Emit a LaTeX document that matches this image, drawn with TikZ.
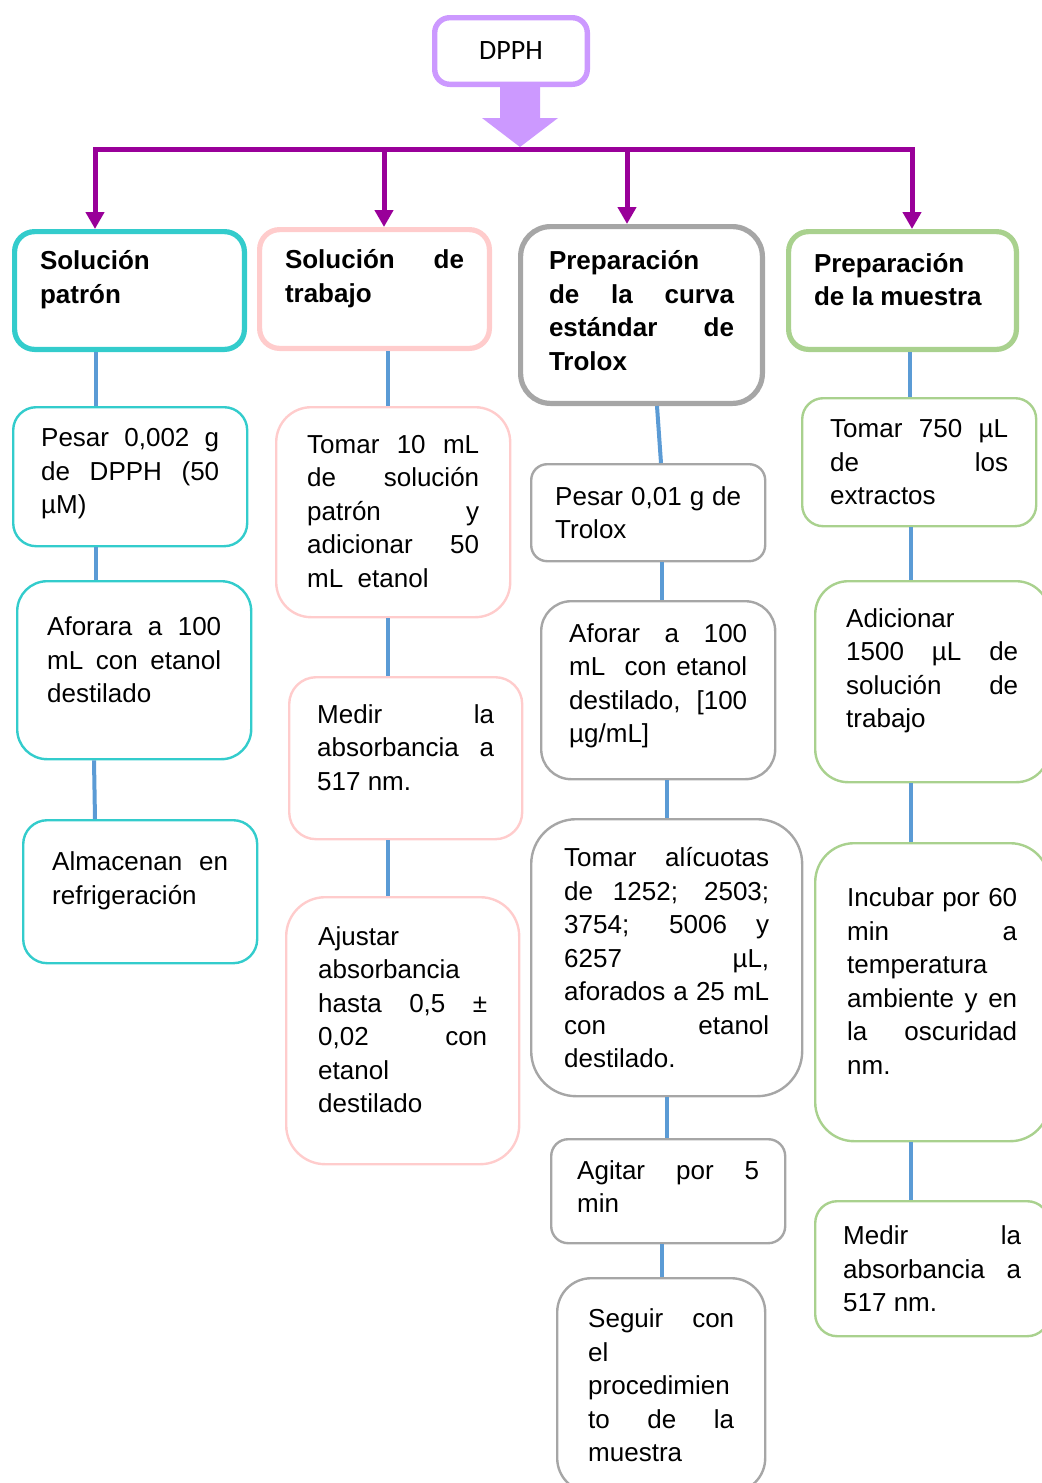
\documentclass[tikz,border=0pt]{standalone}
\usepackage{fontspec}
\setmainfont{Liberation Sans}
\newfontfamily\calibri{Carlito}
\usepackage{tikz}
\usetikzlibrary{arrows.meta,calc}
\usepackage{xcolor}
\definecolor{lilac}{RGB}{204,153,255}
\definecolor{plum}{RGB}{153,0,153}
\definecolor{tealbox}{RGB}{51,204,204}
\definecolor{pinkbox}{RGB}{255,204,204}
\definecolor{graybox}{RGB}{166,166,166}
\definecolor{greenbox}{RGB}{169,209,142}
\definecolor{linkblue}{RGB}{91,155,213}
\hyphenpenalty=10000
\exhyphenpenalty=10000
\newcommand\liftgap[1]{\endgraf\vskip#1\hrule height 0pt}

\begin{document}
\begin{tikzpicture}[x=0.5pt,y=-0.5pt,
    box/.style={draw, rounded corners=#1, anchor=north west, align=justify,
      inner xsep=14pt, inner ysep=4pt, font=\fontsize{13}{16.75}\selectfont},
    headbox/.style={box=#1, line width=2.6pt, inner xsep=12.7pt, font=\bfseries\fontsize{13}{16.75}\selectfont},
    stepbox/.style={box=#1, line width=1.2pt},
    lift/.style={execute at end node={\liftgap{#1}}},
    link/.style={linkblue, line width=2pt},
    drop/.style={plum, line width=2.5pt, -{Triangle[length=8.5pt,width=9pt]}}]
    \useasboundingbox (0,0) rectangle (1042,1483);
    \clip (0,0) rectangle (1042,1483);

    % top
    \node[draw=lilac, line width=2.7pt, rounded corners=7.5pt, minimum width=76.3pt, minimum height=33.3pt,
      font=\calibri\fontsize{14}{16}\selectfont] (dpph) at (511,51) {DPPH};
    \fill[lilac] (500,87) -- (540,87) -- (540,118) -- (558,118) -- (520,147) -- (482,118) -- (500,118) -- cycle;
    \coordinate (j1) at (95,149);
    \coordinate (j2) at (384,149);
    \coordinate (j3) at (627,149);
    \coordinate (j4) at (912,149);

    % headers
    \node[headbox=10pt, draw=tealbox, text width=89.5pt, minimum height=58.9pt, lift=11pt] (patron) at (12,229) {Solución\linebreak patrón};
    \node[headbox=10pt, draw=pinkbox, text width=89.5pt, minimum height=59.4pt, lift=10.5pt] (trabajo) at (257,227) {Solución de\linebreak trabajo};
    \node[headbox=15pt, draw=graybox, inner xsep=14.2pt, text width=92.5pt, minimum height=88.4pt, lift=4.5pt] (curva) at (518,224) {Preparación\linebreak de la curva\linebreak estándar de\linebreak Trolox};
    \node[headbox=10pt, draw=greenbox, text width=88.5pt, minimum height=58.9pt, lift=11pt] (muestra) at (786,229) {Preparación\linebreak de la muestra};

    \draw[drop, {Triangle[length=8.5pt,width=9pt]}-{Triangle[length=8.5pt,width=9pt]}] (patron.north -| j1) -- (j1) -- (j4) -- (muestra.north -| j4);
    \draw[drop] (j2) -- (trabajo.north -| j2);
    \draw[drop] (j3) -- (curva.north -| j3);

    % solucion patron
    \node[stepbox=11.5pt, draw=tealbox, text width=89pt, minimum height=69.5pt, lift=3pt] (pesar) at (12,406) {Pesar 0,002 g\linebreak de DPPH (50\linebreak µM)};
    \node[stepbox=15pt, draw=tealbox, inner xsep=15pt, text width=87pt, minimum height=89pt, lift=10pt] (aforara) at (16,580) {Aforara a 100\linebreak mL con etanol\linebreak destilado};
    \node[stepbox=12pt, draw=tealbox, inner xsep=14.5pt, text width=88pt, minimum height=71.5pt, lift=11pt] (almacenan) at (22,819) {Almacenan en\linebreak refrigeración};

    % solucion de trabajo
    \node[stepbox=17.5pt, draw=pinkbox, inner xsep=15.5pt, text width=86pt, minimum height=105pt, lift=1pt] (tomar) at (275,406) {Tomar 10 mL\linebreak de solución\linebreak patrón y\linebreak adicionar 50\linebreak mL\ \ etanol};
    \node[stepbox=13.5pt, draw=pinkbox, text width=88.5pt, minimum height=81pt, lift=11pt] (medir) at (288,676) {Medir la\linebreak absorbancia a\linebreak 517 nm.};
    \node[stepbox=19.5pt, draw=pinkbox, inner xsep=16pt, text width=84.5pt, minimum height=133.5pt, lift=11pt] (ajustar) at (285,896) {Ajustar\linebreak absorbancia\linebreak hasta 0,5 ±\linebreak 0,02 con\linebreak etanol\linebreak destilado};

    % curva de Trolox
    \node[stepbox=8pt, draw=graybox, inner xsep=12pt, text width=93pt, minimum height=48.5pt] (pesarT) at (530,463) {Pesar 0,01 g de\linebreak Trolox};
    \node[stepbox=15pt, draw=graybox, text width=89pt, minimum height=89pt, lift=4.5pt] (aforar) at (540,600) {Aforar a 100\linebreak mL\ \ con etanol\linebreak destilado, [100\linebreak µg/mL]};
    \node[stepbox=22.5pt, draw=graybox, inner xsep=16.5pt, text width=102.5pt, minimum height=138.5pt] (alicuotas) at (530,818) {Tomar alícuotas\linebreak de 1252; 2503;\linebreak 3754; 5006 y\linebreak 6257 µL,\linebreak aforados a 25 mL\linebreak con etanol\linebreak destilado.};
    \node[stepbox=8.5pt, draw=graybox, inner xsep=13pt, text width=91pt, minimum height=52pt, lift=4.5pt] (agitar) at (550,1138) {Agitar por 5\linebreak min};
    \node[stepbox=17pt, draw=graybox, inner xsep=15.5pt, text width=73pt, minimum height=107pt] (seguir) at (556,1277) {Seguir con\linebreak el\linebreak procedimien\linebreak to de la\linebreak muestra};

    % muestra
    \node[stepbox=10.5pt, draw=greenbox, text width=89pt, minimum height=64pt] (tomarE) at (801,397) {Tomar 750 µL\linebreak de los\linebreak extractos};
    \node[stepbox=16.5pt, draw=greenbox, inner xsep=15.5pt, text width=86pt, minimum height=100.5pt, lift=11pt] (adicionar) at (814,580) {Adicionar\linebreak 1500 µL de\linebreak solución de\linebreak trabajo};
    \node[stepbox=19.5pt, draw=greenbox, inner xsep=16pt, text width=85pt, minimum height=149pt, lift=11pt] (incubar) at (814,842) {Incubar por 60\linebreak min a\linebreak temperatura\linebreak ambiente y en\linebreak la oscuridad\linebreak nm.};
    \node[stepbox=11pt, draw=greenbox, text width=89pt, minimum height=67.5pt] (medirM) at (814,1200) {Medir la\linebreak absorbancia a\linebreak 517 nm.};

    % connectors
    \foreach \a/\b/\xa/\xb in {patron/pesar/96/96, pesar/aforara/96/96, aforara/almacenan/94/95,
        trabajo/tomar/388/388, tomar/medir/388/388, medir/ajustar/388/388,
        curva/pesarT/657/661, pesarT/aforar/662/662, aforar/alicuotas/667/667,
        alicuotas/agitar/667/667, agitar/seguir/662/662,
        muestra/tomarE/910/910, tomarE/adicionar/911/911, adicionar/incubar/911/911, incubar/medirM/911/911}
      \draw[link] (\a.south -| \xa,0) -- (\b.north -| \xb,0);
\end{tikzpicture}
\end{document}
